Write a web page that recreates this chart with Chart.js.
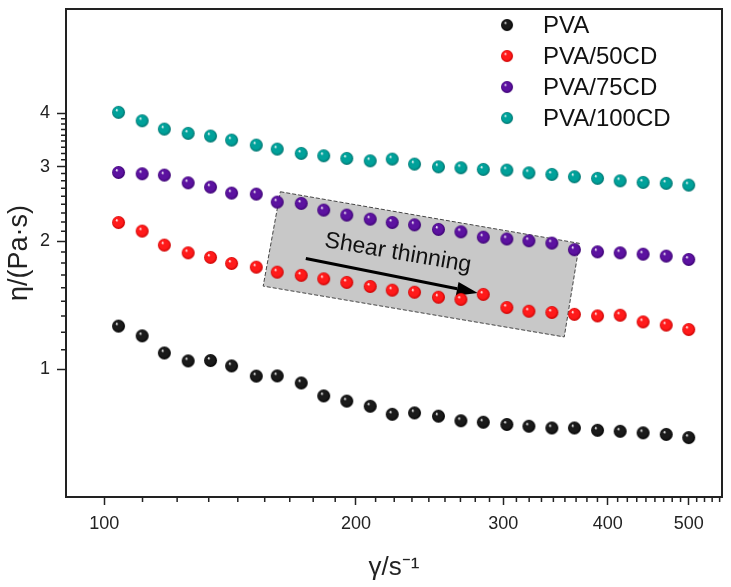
<!DOCTYPE html>
<html>
<head>
<meta charset="utf-8">
<script src="https://cdn.jsdelivr.net/npm/chart.js@4.4.1/dist/chart.umd.min.js"></script>
<style>
  html, body { margin: 0; padding: 0; background: #fff; }
  #wrap { width: 731px; height: 587px; }
</style>
</head>
<body>
<div id="wrap"><canvas id="chart" width="731" height="587"></canvas></div>
<script>
// shear rate (1/s)
const shearRate = [104, 111, 118, 126, 134, 142, 152, 161, 172, 183, 195, 208, 221,
                   235, 251, 267, 284, 303, 322, 343, 365, 389, 414, 441, 470, 500];

// viscosity (Pa·s) for each sample
const pva      = [1.263, 1.198, 1.092, 1.046, 1.048, 1.018, 0.963, 0.964, 0.928, 0.865, 0.841, 0.818, 0.783,
                  0.789, 0.775, 0.756, 0.750, 0.741, 0.734, 0.727, 0.727, 0.718, 0.714, 0.708, 0.702, 0.690];
const pva50cd  = [2.215, 2.114, 1.960, 1.879, 1.833, 1.774, 1.739, 1.692, 1.663, 1.632, 1.601, 1.566, 1.535,
                  1.518, 1.477, 1.460, 1.500, 1.397, 1.369, 1.360, 1.346, 1.335, 1.340, 1.292, 1.270, 1.240];
const pva75cd  = [2.906, 2.885, 2.864, 2.747, 2.684, 2.598, 2.584, 2.474, 2.457, 2.369, 2.306, 2.256, 2.215,
                  2.187, 2.134, 2.106, 2.046, 2.026, 2.006, 1.981, 1.911, 1.889, 1.879, 1.866, 1.846, 1.813];
const pva100cd = [4.025, 3.846, 3.676, 3.592, 3.540, 3.463, 3.370, 3.298, 3.222, 3.181, 3.136, 3.095, 3.124,
                  3.041, 2.996, 2.980, 2.954, 2.943, 2.900, 2.875, 2.838, 2.814, 2.777, 2.753, 2.739, 2.713];

const seriesNames = ["PVA", "PVA/50CD", "PVA/75CD", "PVA/100CD"];
const xTickValues = [100, 200, 300, 400, 500];
const yTickValues = [1, 2, 3, 4];

const FONT = "'Liberation Sans', Arial, sans-serif";

// shaded ball used as point marker
function makeBall(color, dark) {
    const size = 15, r = 6.5;
    const c = document.createElement("canvas");
    c.width = size; c.height = size;
    const g = c.getContext("2d");
    const cx = size / 2, cy = size / 2;
    const grad = g.createRadialGradient(cx - 2, cy - 2.5, 0.3, cx, cy, r);
    grad.addColorStop(0, "#ffffff");
    grad.addColorStop(0.22, color);
    grad.addColorStop(0.7, color);
    grad.addColorStop(1, dark);
    g.fillStyle = grad;
    g.beginPath();
    g.arc(cx, cy, r, 0, Math.PI * 2);
    g.fill();
    return c;
}

const balls = [
    makeBall("#1a1a1a", "#000000"),
    makeBall("#ff1a1a", "#c80000"),
    makeBall("#5c12a0", "#3a0070"),
    makeBall("#00a19a", "#00706b")
];

const allSeries = [pva, pva50cd, pva75cd, pva100cd];

const datasets = allSeries.map((vals, i) => ({
    label: seriesNames[i],
    data: shearRate.map((x, k) => ({ x: x, y: vals[k] })),
    pointStyle: balls[i],
    pointRadius: 7,
    showLine: false
}));

// minor ticks: 8 between each pair of majors (Origin style)
function minorTicks(majors, lo, hi) {
    const out = [];
    const step = majors[1] - majors[0];
    const ext = [majors[0] - step].concat(majors, [majors[majors.length - 1] + step]);
    for (let i = 0; i < ext.length - 1; i++) {
        for (let k = 1; k < 9; k++) {
            const v = ext[i] + (ext[i + 1] - ext[i]) * k / 9;
            if (v > lo && v < hi) out.push(v);
        }
    }
    return out;
}

// the shaded "Shear thinning" box, in data units
const shearNote = {
    box: [[162.4, 2.617], [370.1, 1.978], [354.9, 1.191], [154.9, 1.569]],
    arrowFrom: [174.2, 1.823],
    arrowTo: [279.7, 1.512],
    textAt: [224.5, 1.876]
};

const extrasPlugin = {
    id: "extras",
    beforeDatasetsDraw(chart) {
        const { ctx, scales: { x, y } } = chart;
        const px = p => [x.getPixelForValue(p[0]), y.getPixelForValue(p[1])];
        const pts = shearNote.box.map(px);

        ctx.save();
        ctx.beginPath();
        pts.forEach((p, i) => i ? ctx.lineTo(p[0], p[1]) : ctx.moveTo(p[0], p[1]));
        ctx.closePath();
        ctx.fillStyle = "#c8c8c8";
        ctx.fill();
        ctx.setLineDash([4, 2]);
        ctx.lineWidth = 1;
        ctx.strokeStyle = "#444";
        ctx.stroke();
        ctx.setLineDash([]);

        // label
        const ang = Math.atan2(pts[1][1] - pts[0][1], pts[1][0] - pts[0][0]);
        const t = px(shearNote.textAt);
        ctx.save();
        ctx.translate(t[0], t[1]);
        ctx.rotate(ang);
        ctx.font = "23px " + FONT;
        ctx.fillStyle = "#111";
        ctx.textAlign = "center";
        ctx.textBaseline = "middle";
        ctx.fillText("Shear thinning", 0, 0);
        ctx.restore();

        // arrow
        const a = px(shearNote.arrowFrom), b = px(shearNote.arrowTo);
        const aa = Math.atan2(b[1] - a[1], b[0] - a[0]);
        const headLen = 21, headW = 7;
        const bx = b[0] - headLen * Math.cos(aa), by = b[1] - headLen * Math.sin(aa);
        ctx.strokeStyle = "#000";
        ctx.lineWidth = 3;
        ctx.beginPath();
        ctx.moveTo(a[0], a[1]);
        ctx.lineTo(bx, by);
        ctx.stroke();
        ctx.fillStyle = "#000";
        ctx.beginPath();
        ctx.moveTo(b[0], b[1]);
        ctx.lineTo(bx + headW * Math.sin(aa), by - headW * Math.cos(aa));
        ctx.lineTo(bx - headW * Math.sin(aa), by + headW * Math.cos(aa));
        ctx.closePath();
        ctx.fill();
        ctx.restore();
    },
    afterDraw(chart) {
        const { ctx, chartArea: ca, scales: { x, y } } = chart;
        ctx.save();
        ctx.strokeStyle = "#222";

        // minor ticks
        ctx.lineWidth = 1.5;
        ctx.beginPath();
        minorTicks(xTickValues, x.min, x.max).forEach(v => {
            const p = x.getPixelForValue(v);
            ctx.moveTo(p, ca.bottom);
            ctx.lineTo(p, ca.bottom + 5);
        });
        minorTicks(yTickValues, 1, 4).forEach(v => {
            const p = y.getPixelForValue(v);
            ctx.moveTo(ca.left, p);
            ctx.lineTo(ca.left - 5, p);
        });
        ctx.stroke();

        // frame
        ctx.lineWidth = 2;
        ctx.strokeRect(ca.left, ca.top, ca.right - ca.left, ca.bottom - ca.top);

        // legend
        ctx.font = "24px " + FONT;
        ctx.fillStyle = "#111";
        ctx.textAlign = "left";
        ctx.textBaseline = "middle";
        seriesNames.forEach((name, i) => {
            const mx = ca.right - 215, my = ca.top + 16 + i * 31;
            ctx.drawImage(balls[i], mx - 7, my - 7, 14, 14);
            ctx.fillText(name, mx + 36, my + 1);
        });
        ctx.restore();
    }
};

new Chart(document.getElementById("chart"), {
    type: "scatter",
    data: { datasets: datasets },
    options: {
        responsive: false,
        animation: false,
        layout: { padding: { top: 9, right: 9, left: 0, bottom: 0 } },
        plugins: { legend: { display: false }, tooltip: { enabled: false } },
        scales: {
            x: {
                type: "logarithmic",
                min: 90,
                max: 548,
                afterBuildTicks: s => { s.ticks = xTickValues.map(v => ({ value: v })); },
                afterFit: s => { s.height = 90; s.paddingLeft = 0; s.paddingRight = 0; },
                ticks: {
                    callback: v => String(v),
                    font: { size: 18, family: FONT },
                    color: "#222",
                    padding: 8,
                    maxRotation: 0,
                    autoSkip: false
                },
                grid: { drawOnChartArea: false, tickLength: 8, tickWidth: 1.5, tickColor: "#222" },
                border: { display: false },
                title: {
                    display: true,
                    text: "γ/s⁻¹",
                    font: { size: 26, family: FONT },
                    color: "#222",
                    padding: { top: 10 }
                }
            },
            y: {
                type: "logarithmic",
                min: 0.5,
                max: 7.05,
                afterBuildTicks: s => { s.ticks = yTickValues.map(v => ({ value: v })); },
                afterFit: s => { s.width = 66; s.paddingTop = 0; s.paddingBottom = 0; },
                ticks: {
                    callback: v => String(v),
                    font: { size: 18, family: FONT },
                    color: "#222",
                    padding: 7,
                    autoSkip: false
                },
                grid: { drawOnChartArea: false, tickLength: 9, tickWidth: 1.5, tickColor: "#222" },
                border: { display: false },
                title: {
                    display: true,
                    text: "η/(Pa·s)",
                    font: { size: 27, family: FONT },
                    color: "#222",
                    padding: { top: 3 }
                }
            }
        }
    },
    plugins: [extrasPlugin]
});
</script>
</body>
</html>
